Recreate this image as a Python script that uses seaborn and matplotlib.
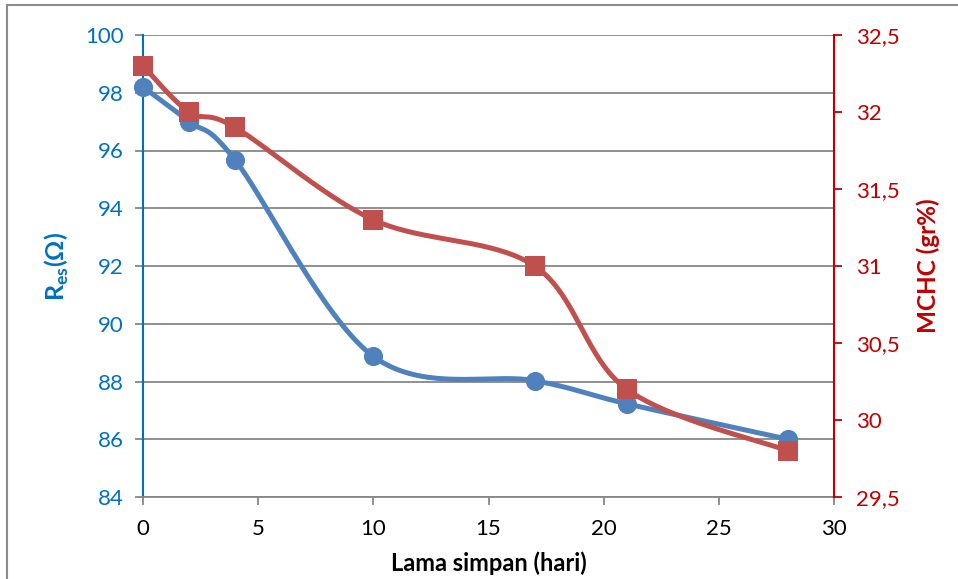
import numpy as np
import pandas as pd
import matplotlib
matplotlib.use("Agg")
import matplotlib.pyplot as plt
from matplotlib.patches import Rectangle
from matplotlib.ticker import FuncFormatter
import seaborn as sns

# Storage time (days) and measured values
days = [0, 2, 4, 10, 17, 21, 28]
res_ohm = [98.2, 97.0, 95.67, 88.87, 88.03, 87.23, 86.0]
mchc = [32.3, 32.0, 31.9, 31.3, 31.0, 30.2, 29.8]

BLUE_LINE = "#4F81BD"
RED_LINE = "#C0504D"
BLUE_AX = "#0070C0"
RED_AX = "#C00000"
GRID = "#878787"


def smooth(x, y, n=40):
    """Bezier smoothing through the points (Catmull-Rom style control points)."""
    x = np.asarray(x, float)
    y = np.asarray(y, float)
    px = np.concatenate([[x[0]], x, [x[-1]]])
    py = np.concatenate([[y[0]], y, [y[-1]]])
    xs, ys = [], []
    for i in range(1, len(px) - 2):
        p0 = np.array([px[i], py[i]])
        p3 = np.array([px[i + 1], py[i + 1]])
        c1 = p0 + (np.array([px[i + 1], py[i + 1]]) - np.array([px[i - 1], py[i - 1]])) / 6
        c2 = p3 - (np.array([px[i + 2], py[i + 2]]) - np.array([px[i], py[i]])) / 6
        t = np.linspace(0, 1, n)[:, None]
        b = ((1 - t) ** 3) * p0 + 3 * ((1 - t) ** 2) * t * c1 + 3 * (1 - t) * t ** 2 * c2 + t ** 3 * p3
        xs.extend(b[:, 0])
        ys.extend(b[:, 1])
    return pd.DataFrame({"x": xs, "y": ys})


sns.set_theme(style="white")
plt.rcParams["font.family"] = ["Lato", "DejaVu Sans"]
plt.rcParams["mathtext.fontset"] = "custom"
plt.rcParams["mathtext.rm"] = "Lato:bold"
plt.rcParams["mathtext.bf"] = "Lato:bold"

fig = plt.figure(figsize=(9.58, 5.79), dpi=100)
ax = fig.add_axes([143 / 958, 1 - 497 / 579, (834 - 143) / 958, (497 - 35) / 579])
ax2 = ax.twinx()

pts = pd.DataFrame({"days": days, "res": res_ohm, "mchc": mchc})

# Res curve (left axis)
sns.lineplot(data=smooth(days, res_ohm), x="x", y="y", ax=ax, color=BLUE_LINE,
             linewidth=3.6, sort=False, estimator=None, zorder=3, clip_on=False)
sns.scatterplot(data=pts, x="days", y="res", ax=ax, color=BLUE_LINE, marker="o",
                s=190, edgecolor=BLUE_LINE, linewidth=0, zorder=4, clip_on=False)

# MCHC curve (right axis)
sns.lineplot(data=smooth(days, mchc), x="x", y="y", ax=ax2, color=RED_LINE,
             linewidth=3.6, sort=False, estimator=None, zorder=3, clip_on=False)
sns.scatterplot(data=pts, x="days", y="mchc", ax=ax2, color=RED_LINE, marker="s",
                s=210, edgecolor=RED_LINE, linewidth=0, zorder=4, clip_on=False)

ax.set_xlim(0, 30)
ax.set_ylim(84, 100)
ax2.set_ylim(29.5, 32.5)
ax.set_xticks([0, 5, 10, 15, 20, 25, 30])
ax.set_yticks(np.arange(84, 101, 2))
ax2.set_yticks(np.arange(29.5, 32.51, 0.5))
ax2.yaxis.set_major_formatter(FuncFormatter(lambda v, p: f"{v:g}".replace(".", ",")))

ax.grid(axis="y", color=GRID, linewidth=1.3)
ax.grid(axis="x", visible=False)
ax2.grid(False)

for a in (ax, ax2):
    for s in a.spines.values():
        s.set_visible(False)
ax.spines["left"].set_visible(True)
ax.spines["left"].set_color(BLUE_AX)
ax.spines["left"].set_linewidth(1.5)
ax.spines["bottom"].set_visible(True)
ax.spines["bottom"].set_color(GRID)
ax.spines["bottom"].set_linewidth(1.3)
ax2.spines["right"].set_visible(True)
ax2.spines["right"].set_color(RED_AX)
ax2.spines["right"].set_linewidth(1.5)

ax.tick_params(axis="y", colors=BLUE_AX, labelsize=16, length=6, width=1.3,
               direction="out", left=True, pad=8)
ax.tick_params(axis="y", which="major", color=GRID)
ax.tick_params(axis="x", colors="black", labelsize=16, length=6, width=1.3,
               direction="out", bottom=True, pad=10)
ax.tick_params(axis="x", color=GRID)
ax2.tick_params(axis="y", colors=RED_AX, labelsize=16, length=6, width=1.3,
                direction="out", right=True, pad=10)

ax.set_xlabel("Lama simpan (hari)", fontsize=17, fontweight="bold", color="black", labelpad=9)
ax.set_ylabel(r"R$_{\mathregular{es}}$(Ω)", fontsize=18, fontweight="bold", color=BLUE_AX, labelpad=10)
ax2.set_ylabel("MCHC (gr%)", fontsize=17.5, fontweight="bold", color=RED_AX, labelpad=12)

fig.patches.append(Rectangle((7 / 958, -0.01), 1.0, 1 - 5 / 579 + 0.01,
                             transform=fig.transFigure, fill=False,
                             edgecolor="#8C8C8C", linewidth=1.5))

fig.savefig("out.png", dpi=100)
